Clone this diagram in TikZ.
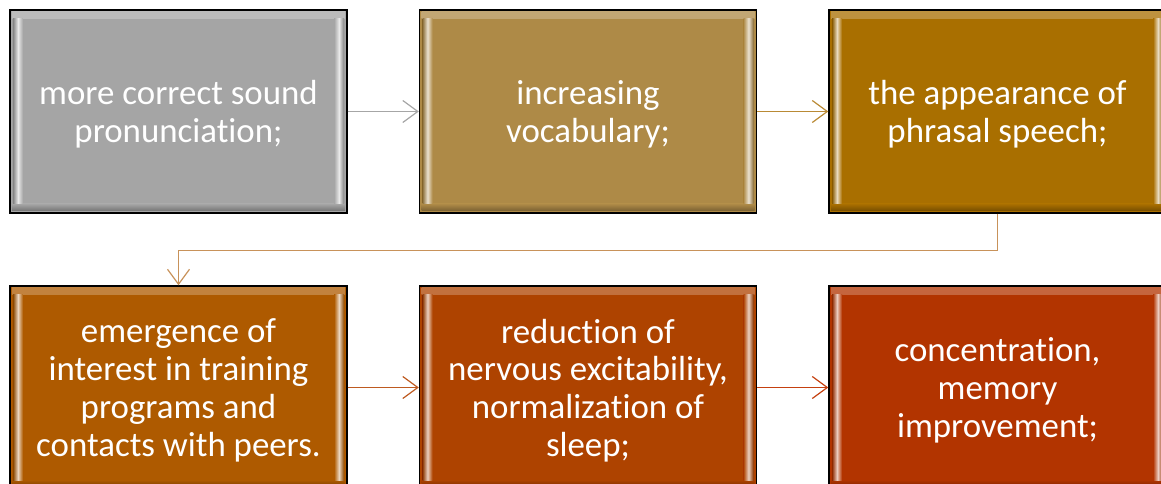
\documentclass[tikz,border=0pt]{standalone}
\usepackage{fontspec}
\setmainfont{Carlito}[Ligatures={NoCommon,NoContextual,NoRequired}, RawFeature={-liga;-clig;-calt;-dlig}]
\usetikzlibrary{arrows.meta}
\definecolor{cA}{HTML}{A5A5A5}
\definecolor{cB}{HTML}{AE8A47}
\definecolor{cC}{HTML}{A96F00}
\definecolor{cD}{HTML}{AE5A00}
\definecolor{cE}{HTML}{AE4300}
\definecolor{cF}{HTML}{B23400}
\definecolor{aA}{HTML}{A6A6A6}
\definecolor{aB}{HTML}{B98A35}
\definecolor{aC}{HTML}{C8925A}
\definecolor{aD}{HTML}{BE5A20}
\definecolor{aE}{HTML}{C5400F}
\tikzset{
  box/.style={draw=black, line width=1.4bp, fill=#1, minimum width=337bp, minimum height=203bp,
    inner sep=0pt,
    path picture={
      \shade[top color=#1!75!white, bottom color=#1]
        ([xshift=2bp,yshift=-2bp]path picture bounding box.north west) rectangle
        ([xshift=-2bp,yshift=-9bp]path picture bounding box.north east);
      \shade[top color=#1, bottom color=#1!70!black]
        ([xshift=2bp,yshift=9bp]path picture bounding box.south west) rectangle
        ([xshift=-2bp,yshift=2bp]path picture bounding box.south east);
      \shade[left color=#1!80!black, right color=#1, middle color=#1!25!white]
        ([xshift=3bp,yshift=9bp]path picture bounding box.south west) rectangle
        ([xshift=13bp,yshift=-9bp]path picture bounding box.north west);
      \shade[left color=#1, right color=#1!80!black, middle color=#1!25!white]
        ([xshift=-13bp,yshift=9bp]path picture bounding box.south east) rectangle
        ([xshift=-3bp,yshift=-9bp]path picture bounding box.north east);
    }},
  txt/.style={inner sep=0pt, text=white, align=center, font=\fontsize{35}{38}\selectfont, yshift=-3bp},
  conn/.style={line width=1.2bp, -{Straight Barb[length=15bp,width=22bp,line width=1.2bp]}}
}
\begin{document}
\begin{tikzpicture}[x=1bp,y=-1bp]
\useasboundingbox (0,0) rectangle (1161,484);
\clip (0,0) rectangle (1161,484);
\node[box=cA] (b1) at (178.5,111.5) {};
\node[box=cB] (b2) at (588,111.5) {};
\node[box=cC] (b3) at (997.5,111.5) {};
\node[box=cD] (b4) at (178.5,387.5) {};
\node[box=cE] (b5) at (588,387.5) {};
\node[box=cF] (b6) at (997.5,387.5) {};
\node[txt] (t1) at (b1) {more correct sound\\pronunciation;};
\node[txt] (t2) at (b2) {increasing\\vocabulary;};
\node[txt] (t3) at (b3) {the appearance of\\phrasal speech;};
\node[txt] (t4) at (b4) {emergence of\\interest in training\\programs and\\contacts with peers.};
\node[txt] (t5) at (b5) {reduction of\\nervous excitability,\\normalization of\\sleep;};
\node[txt] (t6) at (b6) {concentration,\\memory\\improvement;};
\draw[conn, draw=aA] (b1) -- (b2);
\draw[conn, draw=aB] (b2) -- (b3);
\draw[conn, draw=aC] (b3.south) -- ++(0,36.5) -| (b4.north);
\draw[conn, draw=aD] (b4) -- (b5);
\draw[conn, draw=aE] (b5) -- (b6);
\end{tikzpicture}
\end{document}
